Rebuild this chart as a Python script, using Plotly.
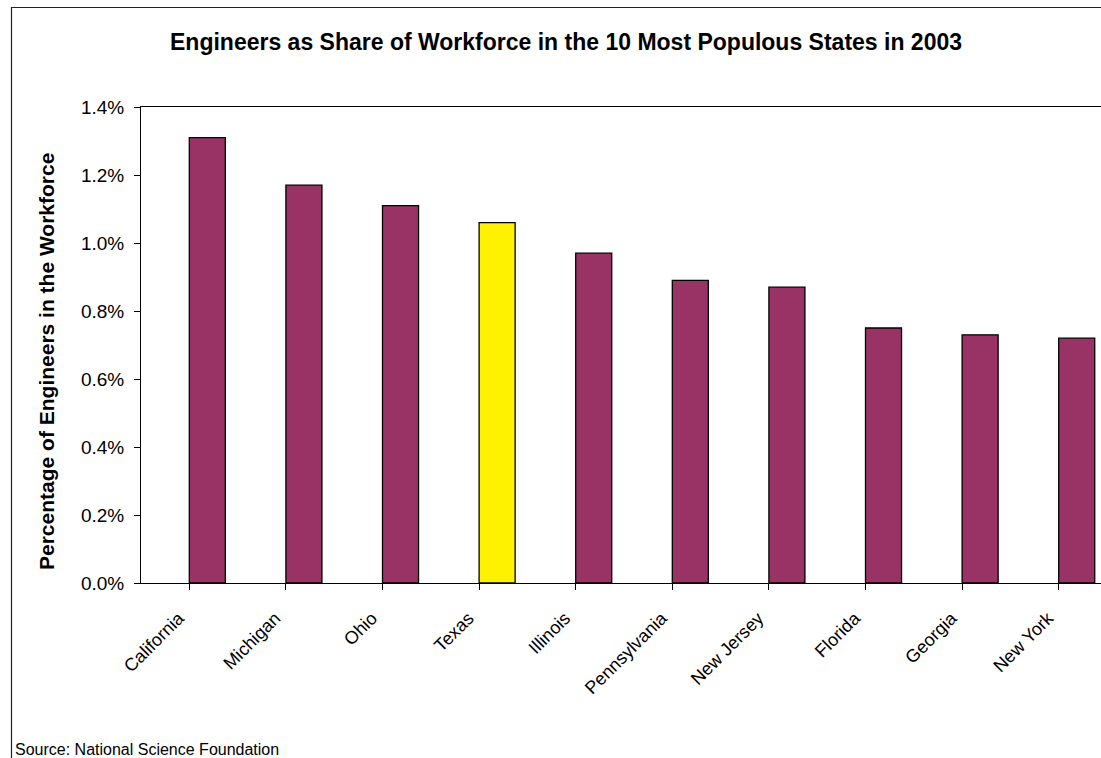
import plotly.graph_objects as go

states = ["California", "Michigan", "Ohio", "Texas", "Illinois",
          "Pennsylvania", "New Jersey", "Florida", "Georgia", "New York"]
shares = [1.31, 1.17, 1.11, 1.06, 0.97, 0.89, 0.87, 0.75, 0.73, 0.72]
highlight = "Texas"
tick_vals = [0.0, 0.2, 0.4, 0.6, 0.8, 1.0, 1.2, 1.4]
tick_text = ["0.0%", "0.2%", "0.4%", "0.6%", "0.8%", "1.0%", "1.2%", "1.4%"]

PURPLE = "#993366"
YELLOW = "#FFF200"
colors = [YELLOW if s == highlight else PURPLE for s in states]

W, H = 1101, 758
L, T, B = 141, 107, 175
PW = W - L
PH = H - T - B


def px_x(x):
    return (x - L) / PW


def px_y(y):
    return (H - B - y) / PH


fig = go.Figure()
fig.add_trace(go.Bar(
    x=list(range(len(states))), y=shares,
    marker=dict(color=colors, line=dict(color="#000000", width=1.3)),
    width=0.373, offset=0.0, hoverinfo="x+y",
))

font = "Arial, Liberation Sans, Helvetica, sans-serif"
pad = "\u00a0\u00a0\u00a0"
fig.update_layout(
    width=W, height=H,
    margin=dict(l=L, r=0, t=T, b=B),
    paper_bgcolor="white", plot_bgcolor="white",
    showlegend=False,
    font=dict(family=font, color="#000000"),
    xaxis=dict(
        tickmode="array", tickvals=list(range(len(states))),
        ticktext=[s + pad for s in states],
        range=[-0.5, -0.5 + PW / 96.6],
        tickangle=-45, tickfont=dict(size=18),
        showline=True, linecolor="#000000", linewidth=1, mirror=True,
        ticks="outside", ticklen=6, tickcolor="#000000",
        tickson="boundaries", showgrid=False, zeroline=False,
    ),
    yaxis=dict(
        range=[0, 1.4], tickmode="array", tickvals=tick_vals, ticktext=tick_text,
        tickfont=dict(size=19), ticklabelstandoff=6,
        showline=True, linecolor="#000000", linewidth=1,
        ticks="outside", ticklen=6, tickcolor="#000000",
        showgrid=False, zeroline=False,
    ),
    shapes=[dict(type="rect", xref="paper", yref="paper",
                 x0=px_x(11.5), x1=1.2, y0=-0.6, y1=px_y(7.5),
                 line=dict(color="#222222", width=1.2), layer="above")],
    annotations=[
        dict(text="<b>Engineers as Share of Workforce in the 10 Most Populous States in 2003</b>",
             xref="paper", yref="paper", x=px_x(566), y=px_y(42),
             xanchor="center", yanchor="middle", showarrow=False,
             font=dict(size=23, family=font)),
        dict(text="<b>Percentage of Engineers in the Workforce</b>",
             xref="paper", yref="paper", x=px_x(46), y=px_y(362),
             xanchor="center", yanchor="middle", showarrow=False, textangle=-90,
             font=dict(size=21, family=font)),
        dict(text="Source: National Science Foundation",
             xref="paper", yref="paper", x=px_x(13), y=px_y(739),
             xanchor="left", yanchor="top", showarrow=False,
             font=dict(size=16, family=font)),
    ],
)

fig.write_html("out.html")
